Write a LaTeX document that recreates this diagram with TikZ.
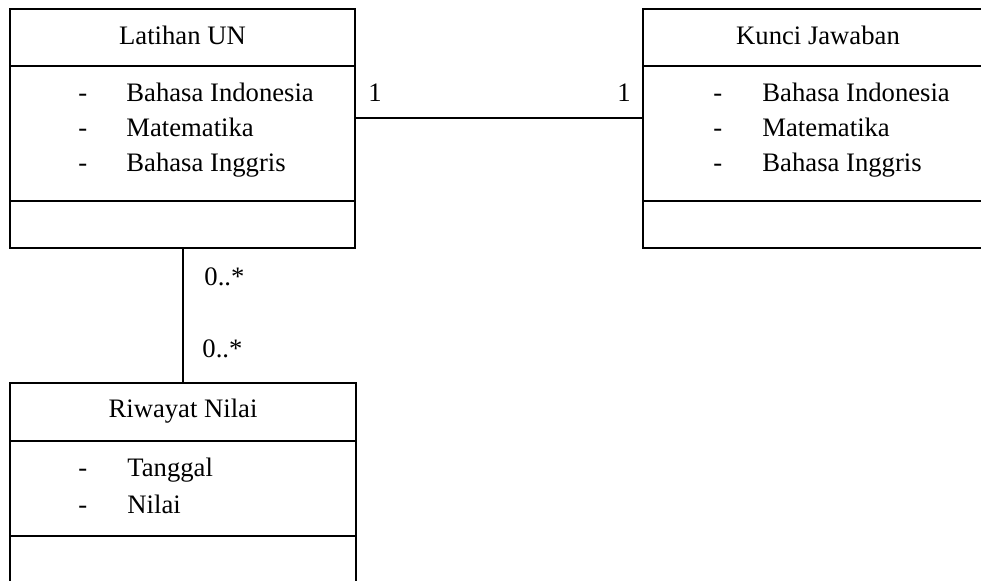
\documentclass[tikz,border=0pt]{standalone}
\usepackage{fontspec}
\setmainfont{Liberation Serif}
\usetikzlibrary{fit}
\begin{document}
\begin{tikzpicture}[x=0.45pt, y=-0.45pt,
  every node/.style={font=\fontsize{12}{14}\selectfont},
  classbox/.style={draw, line width=0.9pt, inner sep=0pt, rectangle},
  sep/.style={line width=0.9pt},
  link/.style={line width=0.9pt},
  txt/.style={anchor=base west, inner sep=0pt},
  ttl/.style={anchor=base, inner sep=0pt}]
\useasboundingbox (0,0) rectangle (981,581);

% class: Latihan UN
\node[classbox, fit={(10,9) (355,248)}] (lat) {};
\draw[sep] (10,66) -- (355,66);
\draw[sep] (10,201) -- (355,201);
\node[ttl] (latT) at (182.5,45) {Latihan UN};
\node[txt] (latd1) at (78,102) {-};
\node[txt] (lata1) at (126,102) {Bahasa Indonesia};
\node[txt] (latd2) at (78,137) {-};
\node[txt] (lata2) at (126,137) {Matematika};
\node[txt] (latd3) at (78,172) {-};
\node[txt] (lata3) at (126,172) {Bahasa Inggris};

% class: Kunci Jawaban
\node[classbox, fit={(643,9) (993,248)}] (kun) {};
\draw[sep] (643,66) -- (993,66);
\draw[sep] (643,201) -- (993,201);
\node[ttl] (kunT) at (818,45) {Kunci Jawaban};
\node[txt] (kund1) at (713,102) {-};
\node[txt] (kuna1) at (762,102) {Bahasa Indonesia};
\node[txt] (kund2) at (713,137) {-};
\node[txt] (kuna2) at (762,137) {Matematika};
\node[txt] (kund3) at (713,172) {-};
\node[txt] (kuna3) at (762,172) {Bahasa Inggris};

% class: Riwayat Nilai
\node[classbox, fit={(10,383) (356,622)}] (riw) {};
\draw[sep] (10,441) -- (356,441);
\draw[sep] (10,536) -- (356,536);
\node[ttl] (riwT) at (183,417) {Riwayat Nilai};
\node[txt] (riwd1) at (78,476) {-};
\node[txt] (riwa1) at (127,476) {Tanggal};
\node[txt] (riwd2) at (78,513) {-};
\node[txt] (riwa2) at (127,513) {Nilai};

% associations
\coordinate (hl) at (0,118);
\draw[link] (lat.east |- hl) -- (kun.west |- hl);
\draw[link] (riw.north |- lat.south) -- (riw.north);

% multiplicities
\node[txt] (m1) at (368,102) {1};
\node[txt] (m2) at (617,102) {1};
\node[txt] (m3) at (204,285) {0..*};
\node[txt] (m4) at (202,357) {0..*};
\end{tikzpicture}
\end{document}
